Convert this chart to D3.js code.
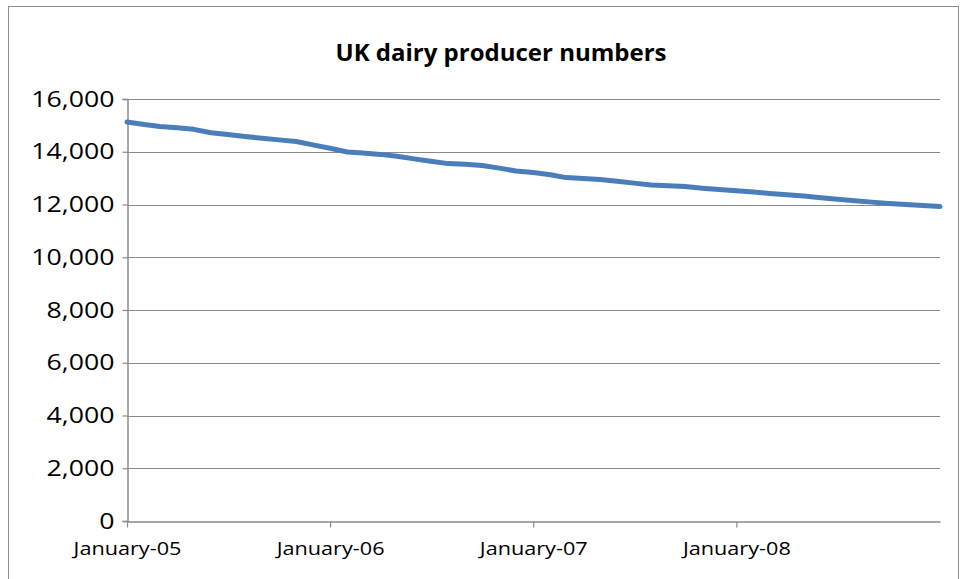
<!DOCTYPE html>
<html>
<head>
<meta charset="utf-8">
<script src="https://cdn.jsdelivr.net/npm/d3@7"></script>
<style>
  html, body { margin: 0; padding: 0; background: #fff; }
  svg { display: block; }
  text { font-family: "Open Sans", sans-serif; fill: #000; }
</style>
</head>
<body>
<script>
const title = "UK dairy producer numbers";
const startMonth = "2005-01";
const producers = [
  15130, 15030, 14960, 14910, 14850, 14720, 14650, 14580, 14510, 14450, 14390, 14260,
  14130, 13990, 13950, 13900, 13830, 13730, 13640, 13550, 13530, 13480, 13380, 13270,
  13210, 13130, 13020, 12985, 12950, 12880, 12810, 12740, 12710, 12680, 12620, 12570,
  12520, 12470, 12420, 12370, 12320, 12260, 12200, 12140, 12090, 12040, 12000, 11960,
  11920
];
const yTicks = [0, 2000, 4000, 6000, 8000, 10000, 12000, 14000, 16000];
const xTickLabels = ["January-05", "January-06", "January-07", "January-08"];

const W = 964, H = 579;
const m = { left: 127, right: 940, top: 99, bottom: 521 };

const parse = d3.timeParse("%Y-%m");
const d0 = parse(startMonth);
const data = producers.map((v, i) => ({ date: d3.timeMonth.offset(d0, i), value: v }));
const xTickDates = xTickLabels.map((_, i) => d3.timeYear.offset(d0, i));

const svg = d3.select("body").append("svg").attr("width", W).attr("height", H);

// chart border
svg.append("rect")
  .attr("x", 8.5).attr("y", 6.5).attr("width", 950).attr("height", 600)
  .attr("fill", "none").attr("stroke", "#8c8c8c").attr("stroke-width", 1);

const x = d3.scaleTime()
  .domain([d0, d3.timeYear.offset(d0, 4)])
  .range([m.left, m.right]);
const y = d3.scaleLinear().domain([0, 16000]).range([m.bottom, m.top]);

// gridlines
svg.append("g").selectAll("line").data(yTicks.filter(t => t > 0)).join("line")
  .attr("x1", m.left).attr("x2", m.right)
  .attr("y1", d => Math.round(y(d)) + 0.5).attr("y2", d => Math.round(y(d)) + 0.5)
  .attr("stroke", "#8a8a8a").attr("stroke-width", 1.2);

// y axis
const ySx = 1.27;
const yAxis = svg.append("g").attr("transform", `translate(${m.left + 0.5},0)`)
  .call(d3.axisLeft(y).tickValues(yTicks).tickSize(5).tickPadding(8)
    .tickFormat(d3.format(",")));
yAxis.select(".domain").attr("stroke", "#8a8a8a").attr("stroke-width", 1.5);
yAxis.selectAll(".tick line").attr("stroke", "#8a8a8a").attr("stroke-width", 1.2);
yAxis.selectAll(".tick text").attr("font-size", 21).attr("font-family", "'Open Sans', sans-serif")
  .attr("fill", "#000").attr("dy", "0.34em")
  .attr("x", -13 / ySx).attr("transform", `scale(${ySx},1)`);

// x axis
const xSx = 1.14;
const xAxis = svg.append("g").attr("transform", `translate(0,${m.bottom + 0.5})`)
  .call(d3.axisBottom(x).tickValues(xTickDates).tickSize(6).tickPadding(14)
    .tickFormat((d, i) => xTickLabels[i]).tickSizeOuter(0));
xAxis.select(".domain").attr("stroke", "#8a8a8a").attr("stroke-width", 1.5);
xAxis.selectAll(".tick line").attr("stroke", "#8a8a8a").attr("stroke-width", 1.2);
xAxis.selectAll(".tick text").attr("font-size", 19).attr("font-family", "'Open Sans', sans-serif")
  .attr("fill", "#000").attr("transform", `scale(${xSx},1)`);

// line
const line = d3.line().x(d => x(d.date)).y(d => y(d.value));
svg.append("path").datum(data)
  .attr("d", line)
  .attr("fill", "none")
  .attr("stroke", "#4a7ebb")
  .attr("stroke-width", 5)
  .attr("stroke-linejoin", "round")
  .attr("stroke-linecap", "round");

// title
svg.append("text")
  .attr("x", 501).attr("y", 61)
  .attr("text-anchor", "middle")
  .attr("font-size", 24).attr("font-weight", "bold")
  .text(title);
</script>
</body>
</html>
